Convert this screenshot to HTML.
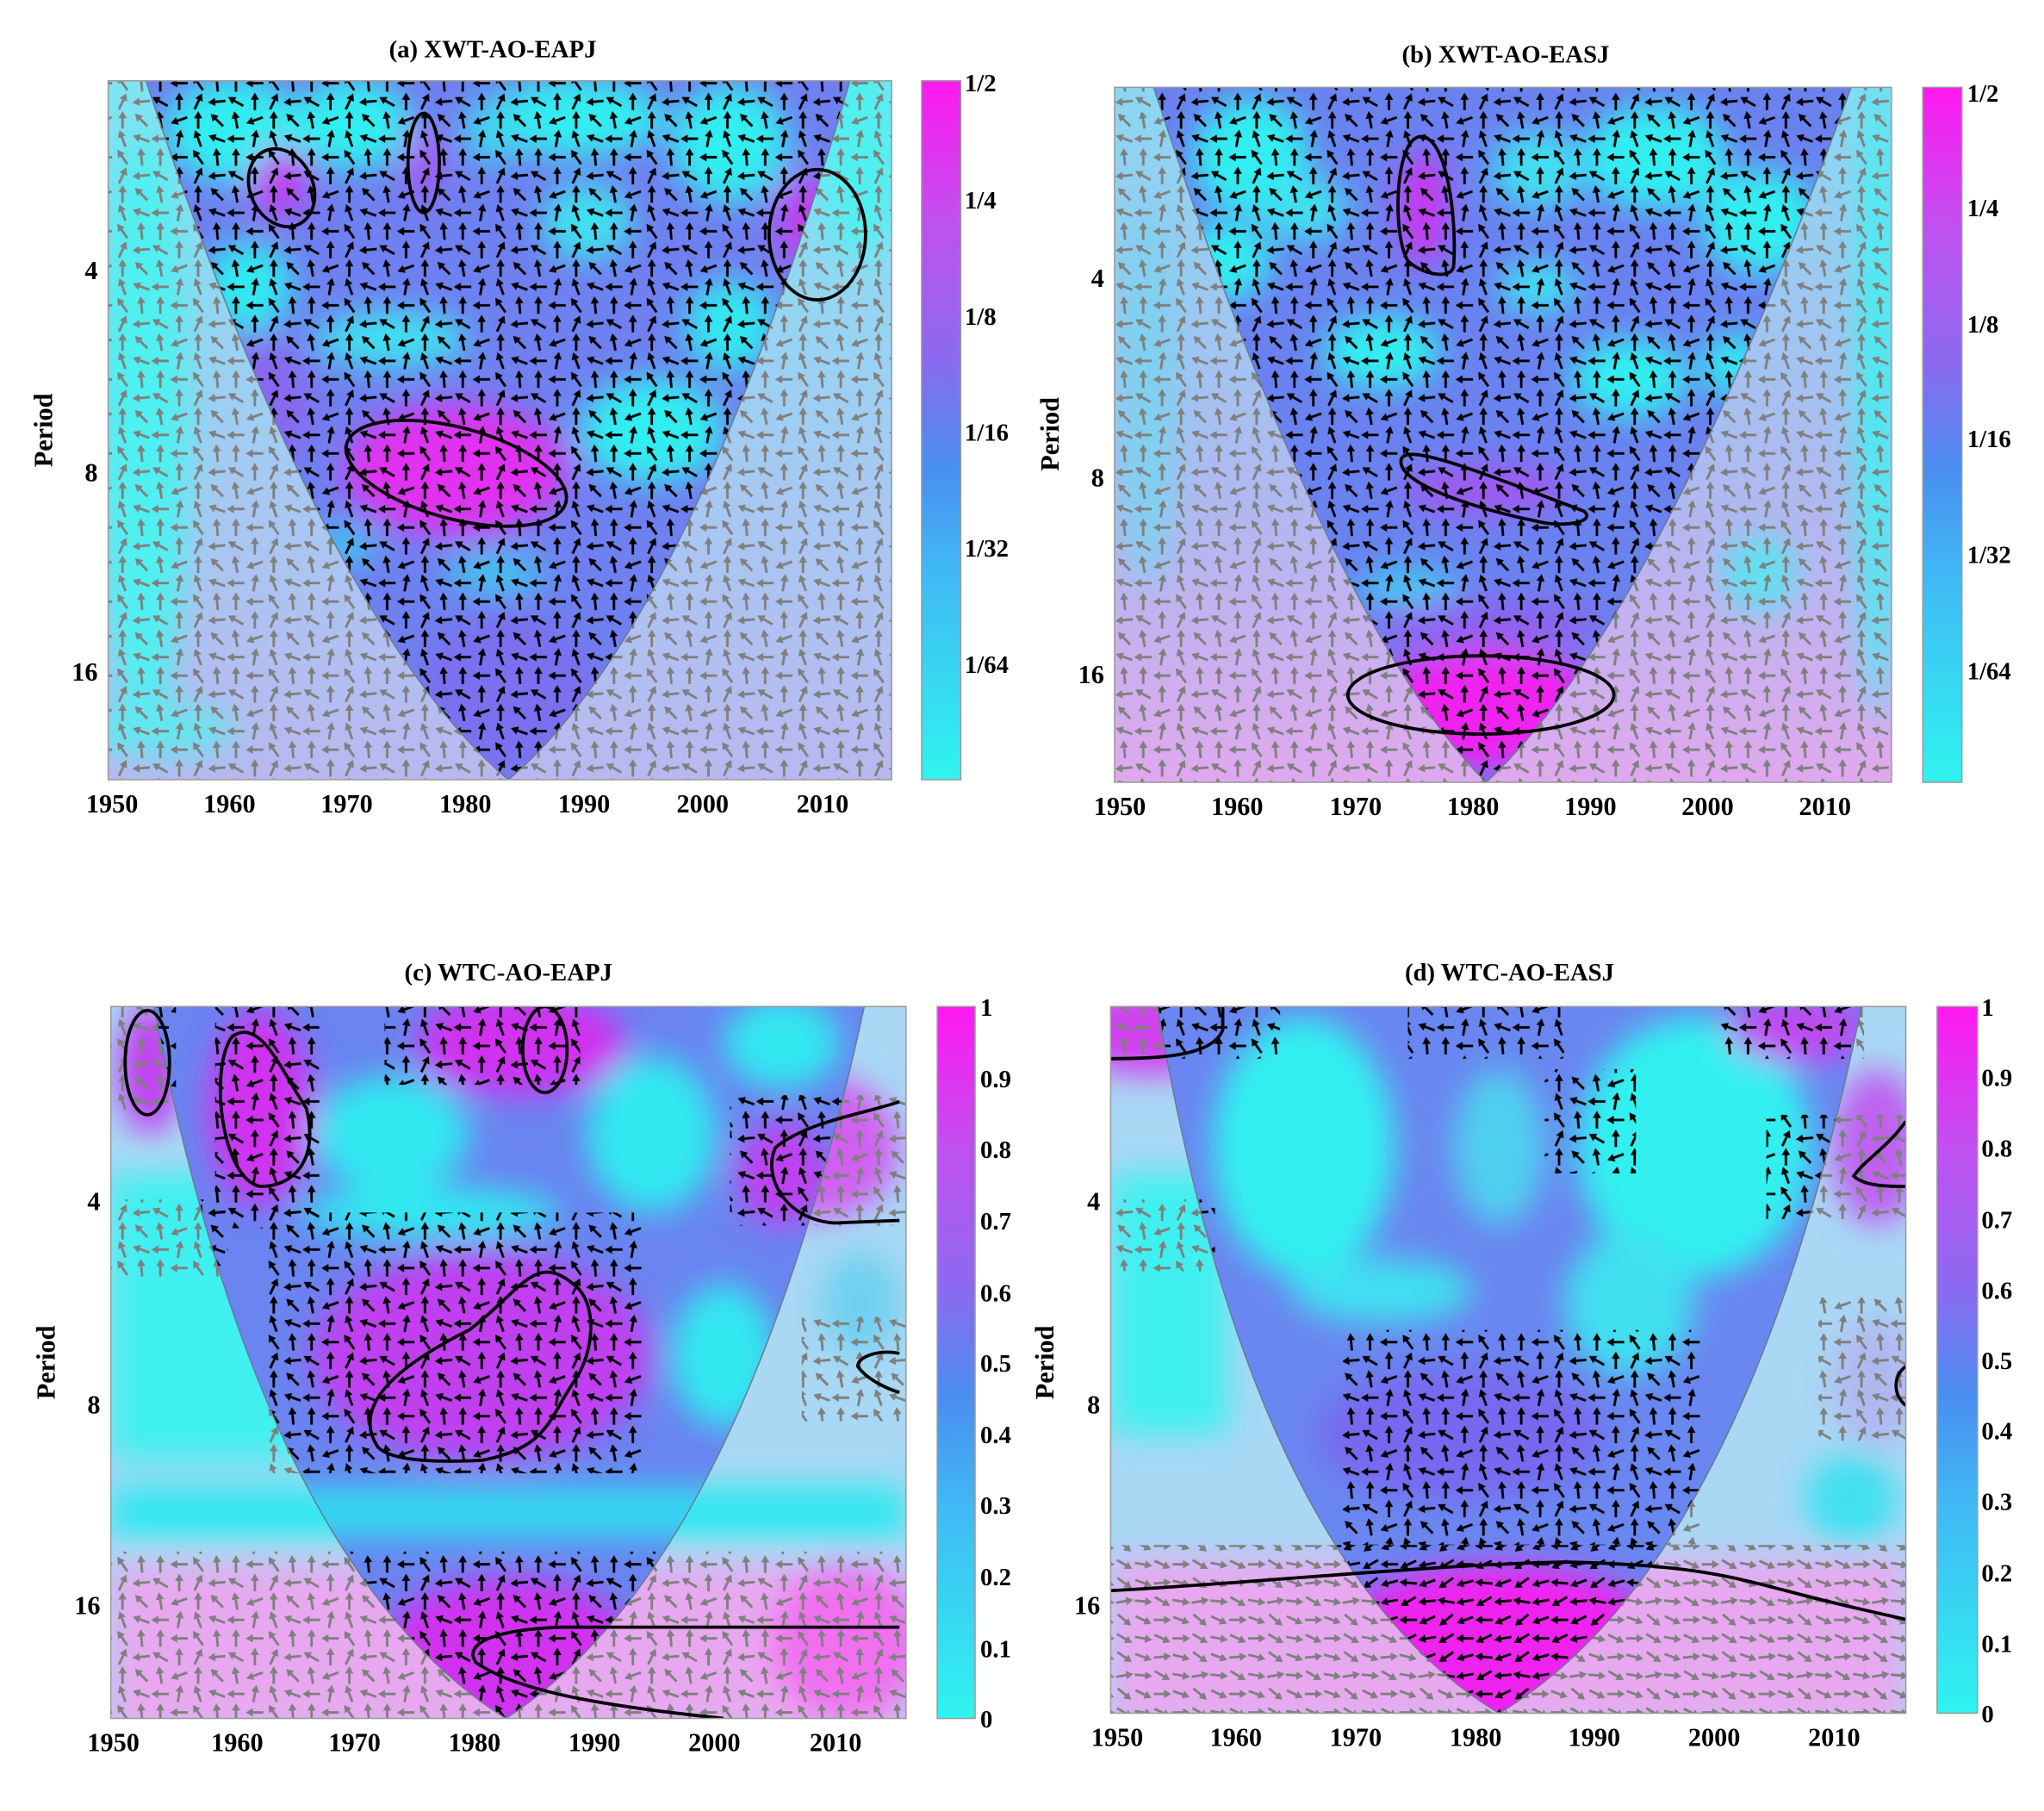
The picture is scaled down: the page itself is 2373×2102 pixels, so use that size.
<!DOCTYPE html>
<html><head><meta charset="utf-8"><style>
html,body{margin:0;padding:0;background:#fff;}
svg{display:block;}
text{font-family:"Liberation Serif",serif;font-weight:bold;fill:#000;}
</style></head><body>
<svg width="2373" height="2102" viewBox="0 0 1568 1389" preserveAspectRatio="none" xmlns="http://www.w3.org/2000/svg" xmlns:xlink="http://www.w3.org/1999/xlink">
<defs>
<filter id="bl" x="-50%" y="-50%" width="200%" height="200%"><feGaussianBlur stdDeviation="12"/></filter>
<linearGradient id="cb" x1="0" y1="1" x2="0" y2="0">
<stop offset="0" stop-color="#2ff4f0"/><stop offset="0.3" stop-color="#40b8f4"/><stop offset="0.45" stop-color="#4a8ef0"/><stop offset="0.6" stop-color="#8a6af0"/><stop offset="0.8" stop-color="#c050f0"/><stop offset="1" stop-color="#ff18f0"/></linearGradient>
<linearGradient id="outA" x1="0" y1="0" x2="0" y2="1"><stop offset="0" stop-color="#7ee4f2"/><stop offset="0.6" stop-color="#a8c8f2"/><stop offset="1" stop-color="#b8b8f0"/></linearGradient>
<linearGradient id="outB" x1="0" y1="0" x2="0" y2="1"><stop offset="0" stop-color="#8ad8f2"/><stop offset="0.6" stop-color="#b0b8f0"/><stop offset="1" stop-color="#e0a8ee"/></linearGradient>
<g id="w"><line x1="-6.5" y1="0" x2="3" y2="0" stroke-width="1.9"/><polygon points="7,0 1.5,-3.2 1.5,3.2" stroke="none"/></g>
<g id="tile">
<use xlink:href="#w" transform="translate(7,7) rotate(-90)"/><use xlink:href="#w" transform="translate(21.5,7) rotate(180)"/><use xlink:href="#w" transform="translate(36,7) rotate(-125)"/><use xlink:href="#w" transform="translate(50.5,7) rotate(-95)"/>
<use xlink:href="#w" transform="translate(7,21.2) rotate(-150)"/><use xlink:href="#w" transform="translate(21.5,21.2) rotate(-90)"/><use xlink:href="#w" transform="translate(36,21.2) rotate(-65)"/><use xlink:href="#w" transform="translate(50.5,21.2) rotate(175)"/>
<use xlink:href="#w" transform="translate(7,35.4) rotate(-100)"/><use xlink:href="#w" transform="translate(21.5,35.4) rotate(160)"/><use xlink:href="#w" transform="translate(36,35.4) rotate(-90)"/><use xlink:href="#w" transform="translate(50.5,35.4) rotate(-135)"/>
<use xlink:href="#w" transform="translate(7,49.6) rotate(180)"/><use xlink:href="#w" transform="translate(21.5,49.6) rotate(-80)"/><use xlink:href="#w" transform="translate(36,49.6) rotate(-110)"/><use xlink:href="#w" transform="translate(50.5,49.6) rotate(200)"/>
</g>
<g id="tile2">
<use xlink:href="#w" transform="translate(7,7) rotate(10)"/><use xlink:href="#w" transform="translate(21.5,7) rotate(25)"/><use xlink:href="#w" transform="translate(36,7) rotate(0)"/><use xlink:href="#w" transform="translate(50.5,7) rotate(30)"/>
<use xlink:href="#w" transform="translate(7,21.2) rotate(20)"/><use xlink:href="#w" transform="translate(21.5,21.2) rotate(-5)"/><use xlink:href="#w" transform="translate(36,21.2) rotate(15)"/><use xlink:href="#w" transform="translate(50.5,21.2) rotate(35)"/>
<use xlink:href="#w" transform="translate(7,35.4) rotate(5)"/><use xlink:href="#w" transform="translate(21.5,35.4) rotate(30)"/><use xlink:href="#w" transform="translate(36,35.4) rotate(10)"/><use xlink:href="#w" transform="translate(50.5,35.4) rotate(-10)"/>
<use xlink:href="#w" transform="translate(7,49.6) rotate(25)"/><use xlink:href="#w" transform="translate(21.5,49.6) rotate(0)"/><use xlink:href="#w" transform="translate(36,49.6) rotate(20)"/><use xlink:href="#w" transform="translate(50.5,49.6) rotate(40)"/>
</g>
<pattern id="pk" patternUnits="userSpaceOnUse" width="58" height="56.8"><g stroke="#000" fill="#000"><use xlink:href="#tile"/></g></pattern>
<pattern id="pg" patternUnits="userSpaceOnUse" width="58" height="56.8"><g stroke="#7f7f7f" fill="#7f7f7f"><use xlink:href="#tile"/></g></pattern>
<pattern id="pk2" patternUnits="userSpaceOnUse" width="58" height="56.8"><g stroke="#000" fill="#000" transform="translate(58,0) scale(-1,1)"><use xlink:href="#tile2"/></g></pattern>
<pattern id="pg2" patternUnits="userSpaceOnUse" width="58" height="56.8"><g stroke="#7f7f7f" fill="#7f7f7f"><use xlink:href="#tile2"/></g></pattern>
<clipPath id="pa"><rect x="83" y="62" width="601" height="536"/></clipPath>
<clipPath id="pb"><rect x="855" y="67" width="596" height="533"/></clipPath>
<clipPath id="pc"><rect x="85" y="772" width="610" height="546"/></clipPath>
<clipPath id="pd"><rect x="852" y="772" width="610" height="542"/></clipPath>
<clipPath id="ca"><path d="M112,62 Q250,480 390,598 Q530,480 652,62Z"/></clipPath>
<clipPath id="cbp"><path d="M885,67 Q1020,480 1140,600 Q1270,480 1420,67Z"/></clipPath>
<clipPath id="cc"><path d="M118,772 Q200,1200 388,1318 Q570,1200 663,772Z"/></clipPath>
<clipPath id="cd"><path d="M888,772 Q960,1200 1150,1314 Q1340,1200 1428,772Z"/></clipPath>
<mask id="ma"><rect x="0" y="0" width="1568" height="1389" fill="#fff"/><path d="M112,62 Q250,480 390,598 Q530,480 652,62Z" fill="#000"/></mask>
<mask id="mb"><rect x="0" y="0" width="1568" height="1389" fill="#fff"/><path d="M885,67 Q1020,480 1140,600 Q1270,480 1420,67Z" fill="#000"/></mask>
<mask id="mc"><rect x="0" y="0" width="1568" height="1389" fill="#fff"/><path d="M118,772 Q200,1200 388,1318 Q570,1200 663,772Z" fill="#000"/></mask>
<mask id="md"><rect x="0" y="0" width="1568" height="1389" fill="#fff"/><path d="M888,772 Q960,1200 1150,1314 Q1340,1200 1428,772Z" fill="#000"/></mask>
<g id="rc">
<rect x="85" y="1190" width="610" height="130"/>
<rect x="85" y="772" width="50" height="80"/>
<rect x="165" y="772" width="80" height="170"/>
<rect x="295" y="772" width="150" height="60"/>
<rect x="560" y="840" width="135" height="100"/>
<rect x="205" y="930" width="290" height="200"/>
<rect x="85" y="920" width="90" height="60"/>
<rect x="615" y="1010" width="80" height="80"/>
</g>
<g id="rd">
<rect x="852" y="772" width="130" height="40"/>
<rect x="1080" y="772" width="120" height="40"/>
<rect x="1320" y="772" width="110" height="40"/>
<rect x="1185" y="820" width="70" height="80"/>
<rect x="1030" y="1020" width="275" height="165"/>
<rect x="1355" y="855" width="107" height="80"/>
<rect x="852" y="920" width="80" height="55"/>
<rect x="1395" y="995" width="67" height="110"/>
</g>
<g id="rd2"><rect x="852" y="1185" width="610" height="135"/></g>
</defs>

<!-- Panel A -->
<g clip-path="url(#pa)">
<rect x="83" y="62" width="601" height="536" fill="url(#outA)"/>
<g filter="url(#bl)"><ellipse cx="110" cy="330" rx="35" ry="230" fill="#50f0f0"/><ellipse cx="120" cy="560" rx="60" ry="20" fill="#60e8f0"/><ellipse cx="660" cy="120" rx="30" ry="80" fill="#50f0f0"/></g>
<g clip-path="url(#ca)">
<rect x="83" y="62" width="601" height="536" fill="#6f80f0"/>
<g filter="url(#bl)">
<ellipse cx="180" cy="100" rx="55" ry="40" fill="#30eef0"/><ellipse cx="270" cy="95" rx="45" ry="35" fill="#30eef0"/><ellipse cx="440" cy="90" rx="70" ry="30" fill="#30eef0"/><ellipse cx="560" cy="110" rx="45" ry="45" fill="#30eef0"/>
<ellipse cx="190" cy="220" rx="35" ry="35" fill="#30e8f0"/><ellipse cx="560" cy="250" rx="35" ry="35" fill="#30e8f0"/><ellipse cx="450" cy="170" rx="35" ry="30" fill="#40e0f0"/>
<ellipse cx="500" cy="330" rx="55" ry="40" fill="#30eef0"/><ellipse cx="300" cy="260" rx="60" ry="22" fill="#40e0f0"/><ellipse cx="380" cy="100" rx="25" ry="25" fill="#40d8f0"/>
<ellipse cx="250" cy="420" rx="40" ry="15" fill="#40c8f0"/><ellipse cx="380" cy="440" rx="40" ry="15" fill="#40c8f0"/>
<ellipse cx="350" cy="360" rx="85" ry="50" fill="#e030f0"/><ellipse cx="215" cy="140" rx="22" ry="28" fill="#c040f0"/><ellipse cx="325" cy="125" rx="10" ry="30" fill="#c040f0"/>
<ellipse cx="620" cy="170" rx="25" ry="35" fill="#c040f0"/><ellipse cx="390" cy="530" rx="70" ry="60" fill="#7a70f0"/><ellipse cx="200" cy="310" rx="40" ry="50" fill="#8a68f0"/>
</g></g>
<rect x="83" y="62" width="601" height="536" fill="url(#pg)" mask="url(#ma)"/>
<rect x="83" y="62" width="601" height="536" fill="url(#pk)" clip-path="url(#ca)"/>
<path d="M112,62 Q250,480 390,598 Q530,480 652,62" fill="none" stroke="#6a7a90" stroke-width="1"/>
<ellipse cx="216" cy="144" rx="24" ry="31" transform="rotate(-25 216 144)" fill="none" stroke="#000" stroke-width="2.5"/>
<ellipse cx="325" cy="125" rx="12" ry="38" fill="none" stroke="#000" stroke-width="2.5"/>
<ellipse cx="627" cy="180" rx="37" ry="50" fill="none" stroke="#000" stroke-width="2.5"/>
<ellipse cx="350" cy="363" rx="87" ry="35" transform="rotate(15 350 363)" fill="none" stroke="#000" stroke-width="2.5"/>
</g>
<rect x="83" y="62" width="601" height="536" fill="none" stroke="#999" stroke-width="1"/>

<!-- Panel B -->
<g clip-path="url(#pb)">
<rect x="855" y="67" width="596" height="533" fill="url(#outB)"/>
<g filter="url(#bl)"><ellipse cx="1440" cy="300" rx="15" ry="250" fill="#40f0f0"/><ellipse cx="1350" cy="440" rx="30" ry="30" fill="#60e0f0"/><ellipse cx="880" cy="300" rx="25" ry="150" fill="#80d0f0"/></g>
<g clip-path="url(#cbp)">
<rect x="855" y="67" width="596" height="533" fill="#6a82f0"/>
<g filter="url(#bl)">
<ellipse cx="960" cy="120" rx="45" ry="45" fill="#30eef0"/><ellipse cx="940" cy="200" rx="35" ry="30" fill="#30eef0"/><ellipse cx="1270" cy="120" rx="55" ry="40" fill="#30eef0"/><ellipse cx="1350" cy="170" rx="45" ry="40" fill="#30eef0"/>
<ellipse cx="1180" cy="130" rx="35" ry="30" fill="#40e0f0"/><ellipse cx="1060" cy="270" rx="45" ry="28" fill="#30eef0"/><ellipse cx="1000" cy="160" rx="35" ry="25" fill="#40e0f0"/>
<ellipse cx="1250" cy="290" rx="45" ry="30" fill="#30eef0"/><ellipse cx="1330" cy="280" rx="25" ry="25" fill="#30e8f0"/><ellipse cx="1080" cy="450" rx="40" ry="15" fill="#40c8f0"/><ellipse cx="1180" cy="220" rx="30" ry="20" fill="#40e0f0"/>
<ellipse cx="1140" cy="545" rx="100" ry="45" fill="#f020f0"/><ellipse cx="1140" cy="480" rx="90" ry="20" fill="#9060f0"/>
<ellipse cx="1092" cy="160" rx="18" ry="45" fill="#d030f0"/><ellipse cx="1140" cy="375" rx="65" ry="20" fill="#a058f0"/>
</g></g>
<rect x="855" y="67" width="596" height="533" fill="url(#pg)" mask="url(#mb)"/>
<rect x="855" y="67" width="596" height="533" fill="url(#pk)" clip-path="url(#cbp)"/>
<path d="M885,67 Q1020,480 1140,600 Q1270,480 1420,67" fill="none" stroke="#6a7a90" stroke-width="1"/>
<path d="M1088,105 C1110,100 1118,170 1115,205 C1112,215 1090,210 1080,200 C1068,180 1070,110 1088,105Z" fill="none" stroke="#000" stroke-width="2.5"/>
<path d="M1075,352 C1080,340 1130,360 1215,392 C1225,400 1200,405 1180,400 C1130,390 1070,370 1075,352Z" fill="none" stroke="#000" stroke-width="2.5"/>
<ellipse cx="1136" cy="533" rx="102" ry="30" fill="none" stroke="#000" stroke-width="2.5"/>
</g>
<rect x="855" y="67" width="596" height="533" fill="none" stroke="#999" stroke-width="1"/>

<!-- Panel C -->
<g clip-path="url(#pc)">
<rect x="85" y="772" width="610" height="546" fill="#a8d8f4"/>
<g filter="url(#bl)">
<rect x="85" y="900" width="150" height="220" fill="#40f0f0"/>
<rect x="85" y="1140" width="610" height="40" fill="#30e8f0"/>
<rect x="85" y="1200" width="610" height="130" fill="#e8a8f0"/>
<ellipse cx="650" cy="1260" rx="60" ry="60" fill="#f070f0"/>
<ellipse cx="115" cy="820" rx="25" ry="50" fill="#c040f0"/>
<ellipse cx="630" cy="880" rx="60" ry="55" fill="#d060f0"/>
<ellipse cx="660" cy="1000" rx="30" ry="40" fill="#70d0f0"/>
</g>
<g clip-path="url(#cc)">
<rect x="85" y="772" width="610" height="546" fill="#6a84f0"/>
<g filter="url(#bl)">
<ellipse cx="200" cy="850" rx="40" ry="75" fill="#d030f0"/><ellipse cx="400" cy="800" rx="80" ry="40" fill="#d030f0"/>
<ellipse cx="370" cy="1040" rx="130" ry="80" fill="#c040f0"/>
<ellipse cx="300" cy="870" rx="60" ry="45" fill="#30e8f0"/><ellipse cx="330" cy="930" rx="100" ry="20" fill="#30e8f0"/><ellipse cx="500" cy="870" rx="50" ry="60" fill="#30e8f0"/>
<ellipse cx="600" cy="800" rx="45" ry="35" fill="#30e8f0"/><ellipse cx="555" cy="1040" rx="40" ry="55" fill="#30e8f0"/>
<rect x="150" y="1140" width="500" height="40" fill="#30d8f0"/>
<ellipse cx="390" cy="1270" rx="100" ry="60" fill="#d030f0"/>
<ellipse cx="600" cy="900" rx="35" ry="40" fill="#c040f0"/>
</g></g>
<g fill="url(#pg)" mask="url(#mc)"><use xlink:href="#rc"/></g>
<g fill="url(#pk)" clip-path="url(#cc)"><use xlink:href="#rc"/></g>
<path d="M118,772 Q200,1200 388,1318 Q570,1200 663,772" fill="none" stroke="#6a7a90" stroke-width="1"/>
<ellipse cx="113" cy="815" rx="17" ry="40" fill="none" stroke="#000" stroke-width="2.5"/>
<path d="M178,795 C200,780 215,820 235,850 C245,890 225,910 200,910 C170,905 160,820 178,795Z" fill="none" stroke="#000" stroke-width="2.5"/>
<ellipse cx="418" cy="805" rx="17" ry="33" fill="none" stroke="#000" stroke-width="2.5"/>
<path d="M690,845 C660,855 620,860 595,880 C585,900 600,935 640,938 L690,936" fill="none" stroke="#000" stroke-width="2.5"/>
<path d="M290,1110 C270,1080 300,1050 360,1020 C400,990 410,960 440,985 C460,1000 455,1040 440,1060 C420,1090 420,1110 370,1120 C330,1122 300,1120 290,1110Z" fill="none" stroke="#000" stroke-width="2.5"/>
<path d="M690,1038 C675,1035 658,1040 658,1048 C665,1058 680,1065 690,1068" fill="none" stroke="#000" stroke-width="2.5"/>
<path d="M690,1248 L430,1248 C380,1250 355,1260 365,1275 C400,1300 480,1310 555,1318" fill="none" stroke="#000" stroke-width="2.5"/>
</g>
<rect x="85" y="772" width="610" height="546" fill="none" stroke="#999" stroke-width="1"/>

<!-- Panel D -->
<g clip-path="url(#pd)">
<rect x="852" y="772" width="610" height="542" fill="#a8d8f4"/>
<g filter="url(#bl)">
<rect x="852" y="900" width="90" height="200" fill="#40f0f0"/>
<rect x="852" y="1195" width="610" height="130" fill="#e8a8f0"/>
<ellipse cx="1440" cy="880" rx="35" ry="60" fill="#c060f0"/>
<ellipse cx="1440" cy="1060" rx="35" ry="50" fill="#b0b8f0"/>
<ellipse cx="1420" cy="1150" rx="35" ry="35" fill="#40e0f0"/>
<ellipse cx="880" cy="790" rx="60" ry="35" fill="#d040f0"/>
</g>
<g clip-path="url(#cd)">
<rect x="852" y="772" width="610" height="542" fill="#6a86f0"/>
<g filter="url(#bl)">
<ellipse cx="1000" cy="880" rx="70" ry="100" fill="#30f0f0"/><ellipse cx="1300" cy="880" rx="90" ry="100" fill="#30f0f0"/>
<ellipse cx="1150" cy="880" rx="35" ry="60" fill="#50d0f0"/>
<ellipse cx="1060" cy="990" rx="70" ry="25" fill="#40e0f0"/><ellipse cx="1250" cy="1000" rx="50" ry="55" fill="#40e0f0"/>
<ellipse cx="1120" cy="1100" rx="110" ry="50" fill="#7868f0"/>
<ellipse cx="1150" cy="1270" rx="140" ry="70" fill="#f020f0"/>
<ellipse cx="1380" cy="790" rx="55" ry="25" fill="#c048f0"/>
</g></g>
<g fill="url(#pg)" mask="url(#md)"><use xlink:href="#rd"/></g>
<g fill="url(#pk)" clip-path="url(#cd)"><use xlink:href="#rd"/></g>
<g fill="url(#pg2)" mask="url(#md)"><use xlink:href="#rd2"/></g>
<g fill="url(#pk2)" clip-path="url(#cd)"><use xlink:href="#rd2"/></g>
<path d="M888,772 Q960,1200 1150,1314 Q1340,1200 1428,772" fill="none" stroke="#6a7a90" stroke-width="1"/>
<path d="M852,812 C890,812 930,810 938,790 L938,772" fill="none" stroke="#000" stroke-width="2.5"/>
<path d="M1462,860 C1448,880 1430,890 1422,902 C1430,910 1450,910 1462,910" fill="none" stroke="#000" stroke-width="2.5"/>
<path d="M1462,1048 C1452,1055 1452,1070 1462,1078" fill="none" stroke="#000" stroke-width="2.5"/>
<path d="M852,1220 C950,1215 1100,1200 1200,1198 C1300,1200 1330,1210 1370,1220 C1400,1228 1430,1235 1462,1242" fill="none" stroke="#000" stroke-width="2.5"/>
</g>
<rect x="852" y="772" width="610" height="542" fill="none" stroke="#999" stroke-width="1"/>

<!-- Colorbars -->
<rect x="707" y="62" width="30" height="536" fill="url(#cb)" stroke="#999"/>
<rect x="1475" y="67" width="30" height="533" fill="url(#cb)" stroke="#999"/>
<rect x="719" y="772" width="29" height="546" fill="url(#cb)" stroke="#999"/>
<rect x="1486" y="772" width="31" height="542" fill="url(#cb)" stroke="#999"/>

<g font-size="19">
<text x="740" y="70">1/2</text><text x="740" y="160">1/4</text><text x="740" y="249">1/8</text><text x="740" y="338">1/16</text><text x="740" y="427">1/32</text><text x="740" y="516">1/64</text>
<text x="1509" y="78">1/2</text><text x="1509" y="166">1/4</text><text x="1509" y="255">1/8</text><text x="1509" y="343">1/16</text><text x="1509" y="432">1/32</text><text x="1509" y="521">1/64</text>
<text x="752" y="1325">0</text><text x="752" y="1271">0.1</text><text x="752" y="1216">0.2</text><text x="752" y="1161">0.3</text><text x="752" y="1107">0.4</text><text x="752" y="1052">0.5</text><text x="752" y="998">0.6</text><text x="752" y="943">0.7</text><text x="752" y="888">0.8</text><text x="752" y="834">0.9</text><text x="752" y="779">1</text>
<text x="1520" y="1321">0</text><text x="1520" y="1267">0.1</text><text x="1520" y="1213">0.2</text><text x="1520" y="1158">0.3</text><text x="1520" y="1104">0.4</text><text x="1520" y="1050">0.5</text><text x="1520" y="996">0.6</text><text x="1520" y="942">0.7</text><text x="1520" y="887">0.8</text><text x="1520" y="833">0.9</text><text x="1520" y="779">1</text>
</g>

<g font-size="19" text-anchor="middle">
<text x="378" y="44">(a) XWT-AO-EAPJ</text>
<text x="1155" y="48">(b) XWT-AO-EASJ</text>
<text x="390" y="752">(c) WTC-AO-EAPJ</text>
<text x="1158" y="752">(d) WTC-AO-EASJ</text>
</g>
<g font-size="20" text-anchor="middle">
<text transform="translate(40,330) rotate(-90)">Period</text>
<text transform="translate(812,333) rotate(-90)">Period</text>
<text transform="translate(42,1045) rotate(-90)">Period</text>
<text transform="translate(808,1045) rotate(-90)">Period</text>
</g>
<g font-size="20" text-anchor="middle">
<text x="86" y="623">1950</text><text x="176" y="623">1960</text><text x="266" y="623">1970</text><text x="357" y="623">1980</text><text x="448" y="623">1990</text><text x="539" y="623">2000</text><text x="631" y="623">2010</text>
<text x="859" y="625">1950</text><text x="949" y="625">1960</text><text x="1040" y="625">1970</text><text x="1130" y="625">1980</text><text x="1220" y="625">1990</text><text x="1310" y="625">2000</text><text x="1400" y="625">2010</text>
<text x="87" y="1343">1950</text><text x="182" y="1343">1960</text><text x="272" y="1343">1970</text><text x="364" y="1343">1980</text><text x="456" y="1343">1990</text><text x="548" y="1343">2000</text><text x="641" y="1343">2010</text>
<text x="857" y="1339">1950</text><text x="948" y="1339">1960</text><text x="1040" y="1339">1970</text><text x="1132" y="1339">1980</text><text x="1223" y="1339">1990</text><text x="1315" y="1339">2000</text><text x="1407" y="1339">2010</text>
</g>
<g font-size="20" text-anchor="end">
<text x="75" y="214">4</text><text x="75" y="369">8</text><text x="75" y="522">16</text>
<text x="847" y="220">4</text><text x="847" y="373">8</text><text x="847" y="524">16</text>
<text x="77" y="928">4</text><text x="77" y="1084">8</text><text x="77" y="1238">16</text>
<text x="844" y="928">4</text><text x="844" y="1084">8</text><text x="844" y="1238">16</text>
</g>
</svg>
</body></html>
